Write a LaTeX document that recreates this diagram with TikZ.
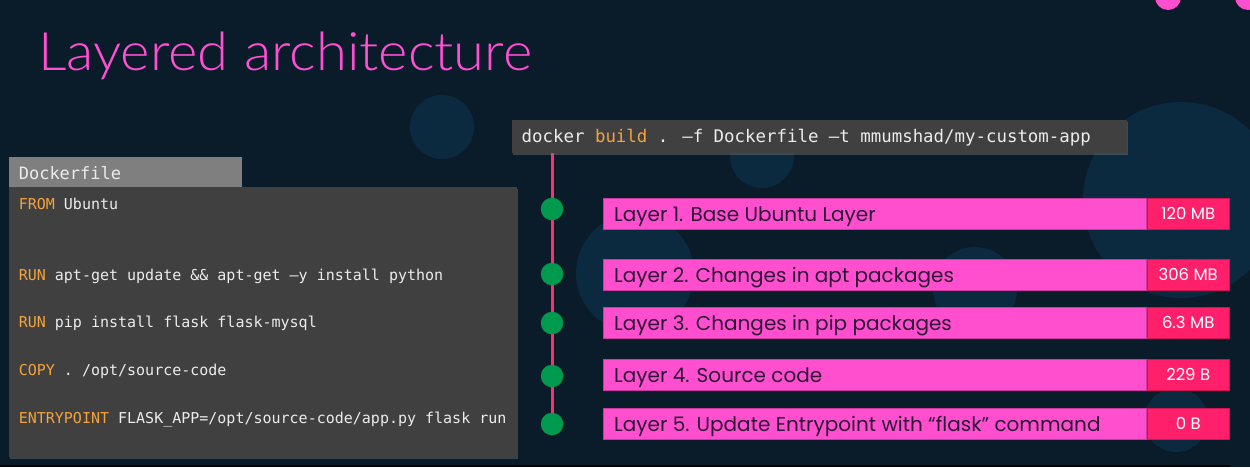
\documentclass[tikz,border=0pt]{standalone}
\usepackage{fontspec}
\usetikzlibrary{shadows}
\newfontfamily\titlefont[FakeStretch=1.06]{Lato Light}
\newfontfamily\layfont{Poppins}
\newfontfamily\codefont{DejaVu Sans Mono}
\definecolor{bgnavy}{HTML}{0A1B2A}
\definecolor{circblue}{HTML}{0B2A40}
\definecolor{titlepink}{HTML}{FF50D4}
\definecolor{barpink}{HTML}{FF4FCF}
\definecolor{barline}{HTML}{C83A9E}
\definecolor{sizered}{HTML}{FF1F6B}
\definecolor{sizeline}{HTML}{D0144F}
\definecolor{bartext}{HTML}{2A1535}
\definecolor{panelgray}{HTML}{404040}
\definecolor{tabgray}{HTML}{7F7F7F}
\definecolor{codetext}{HTML}{ECECEC}
\definecolor{kworange}{HTML}{F4A33D}
\definecolor{dotgreen}{HTML}{009A4E}
\definecolor{linepink}{HTML}{FF2E6E}
\newcommand{\kw}[1]{\textcolor{kworange}{#1}}
\pgfdeclarelayer{backdrop}
\pgfdeclarelayer{lines}
\pgfsetlayers{backdrop,lines,main}
\tikzset{
  blob/.style={fill=circblue},
  panel/.style={fill=panelgray, inner sep=0pt, anchor=north west},
  codeline/.style={anchor=base west, inner sep=0pt, text=codetext, font=\codefont\fontsize{15}{15}\selectfont},
  cmdtext/.style={anchor=base west, inner sep=0pt, text=codetext, font=\codefont\fontsize{17.4}{17.4}\selectfont},
  layerbar/.style={fill=barpink, draw=barline, line width=0.8pt, minimum width=543pt, minimum height=30.5pt, inner sep=0pt, anchor=north west},
  sizebox/.style={fill=sizered, draw=sizeline, line width=0.8pt, minimum width=82pt, minimum height=30.5pt, inner sep=0pt, anchor=north west},
  laytext/.style={anchor=base west, inner sep=0pt, text=bartext, font=\layfont\fontsize{20}{20}\selectfont},
  sizetext/.style={anchor=base, inner sep=0pt, text=white, font=\layfont\fontsize{16.5}{16.5}\selectfont},
  stepdot/.style={circle, fill=dotgreen, minimum size=22.5pt, inner sep=0pt},
  pinkline/.style={draw=linepink, line width=3pt}
}
\begin{document}
\begin{tikzpicture}[x=1pt,y=-1pt]
\useasboundingbox (0,0) rectangle (1250,467);
\begin{pgfonlayer}{backdrop}
\fill[bgnavy] (0,0) rectangle (1250,467);
\fill[blob] (442,127) circle[radius=32pt];
\fill[blob] (762,156) circle[radius=32pt];
\fill[blob] (1181,200) circle[radius=98pt];
\fill[blob] (635,273) circle[radius=59pt];
\fill[blob] (975,289) circle[radius=42pt];
\fill[blob] (1176,420) circle[radius=32pt];
\fill[barpink] (1168,-3) circle[radius=13pt];
\fill[barpink] (1248,-3) circle[radius=13pt];
\fill[black] (0,465) rectangle (1230,467);
\end{pgfonlayer}

% title
\node[anchor=base west, inner sep=0pt, text=titlepink, font=\titlefont\fontsize{53}{53}\selectfont] (title) at (38,70) {Layered architecture};

% Dockerfile panel
\node[panel, fill=tabgray, minimum width=233.5pt, minimum height=30pt] (tab) at (8.5,157) {};
\node[codeline, text=codetext, font=\codefont\fontsize{17}{17}\selectfont] (tabtext) at (18.6,179.3) {Dockerfile};
\node[panel, minimum width=508.5pt, minimum height=270pt, drop shadow={shadow xshift=1pt, shadow yshift=-2pt, opacity=0.4}] (code) at (8.5,187) {};
\node[codeline] (c1) at (18.6,209.3) {\kw{FROM} Ubuntu};
\node[codeline] (c2) at (18.6,280) {\kw{RUN} apt-get update \&\& apt-get –y install python};
\node[codeline] (c3) at (18.6,327.7) {\kw{RUN} pip install flask flask-mysql};
\node[codeline] (c4) at (18.6,375.7) {\kw{COPY} . /opt/source-code};
\node[codeline] (c5) at (18.6,423.3) {\kw{ENTRYPOINT} FLASK\_APP=/opt/source-code/app.py flask run};

% command box
\node[panel, minimum width=615pt, minimum height=33.5pt, drop shadow={shadow xshift=1pt, shadow yshift=-2pt, opacity=0.4}] (cmd) at (511.5,119.3) {};
\node[cmdtext] (cmdtxt) at (521.5,142) {docker \kw{build} . –f Dockerfile –t mmumshad/my-custom-app};

% dots
\node[stepdot] (d1) at (552,209) {};
\node[stepdot] (d2) at (552,274) {};
\node[stepdot] (d3) at (552,323) {};
\node[stepdot] (d4) at (552,376) {};
\node[stepdot] (d5) at (552,424) {};
\begin{pgfonlayer}{lines}
\draw[pinkline] (cmd.south -| d1) -- (d1.center) -- (d2.center) -- (d3.center) -- (d4.center) -- (d5.center);
\end{pgfonlayer}

% layer bars
\node[layerbar] (b1) at (603,198) {};
\node[layerbar] (b2) at (603,259) {};
\node[layerbar] (b3) at (603,307) {};
\node[layerbar] (b4) at (603,359) {};
\node[layerbar] (b5) at (603,408) {};
\node[sizebox] (s1) at (b1.north east) {};
\node[sizebox] (s2) at (b2.north east) {};
\node[sizebox] (s3) at (b3.north east) {};
\node[sizebox] (s4) at (b4.north east) {};
\node[sizebox] (s5) at (b5.north east) {};
\node[laytext] (t1) at ([xshift=11pt,yshift=-23.5pt]b1.north west) {Layer 1. Base Ubuntu Layer};
\node[laytext] (t2) at ([xshift=11pt,yshift=-23.5pt]b2.north west) {Layer 2. Changes in apt packages};
\node[laytext] (t3) at ([xshift=11pt,yshift=-23.5pt]b3.north west) {Layer 3. Changes in pip packages};
\node[laytext] (t4) at ([xshift=11pt,yshift=-23.5pt]b4.north west) {Layer 4. Source code};
\node[laytext] (t5) at ([xshift=11pt,yshift=-23.5pt]b5.north west) {Layer 5. Update Entrypoint with “flask” command};
\node[sizetext] (z1) at ([yshift=-21.5pt]s1.north) {120 MB};
\node[sizetext] (z2) at ([yshift=-21.5pt]s2.north) {306 MB};
\node[sizetext] (z3) at ([yshift=-21.5pt]s3.north) {6.3 MB};
\node[sizetext] (z4) at ([yshift=-21.5pt]s4.north) {229 B};
\node[sizetext] (z5) at ([yshift=-21.5pt]s5.north) {0 B};
\end{tikzpicture}
\end{document}
